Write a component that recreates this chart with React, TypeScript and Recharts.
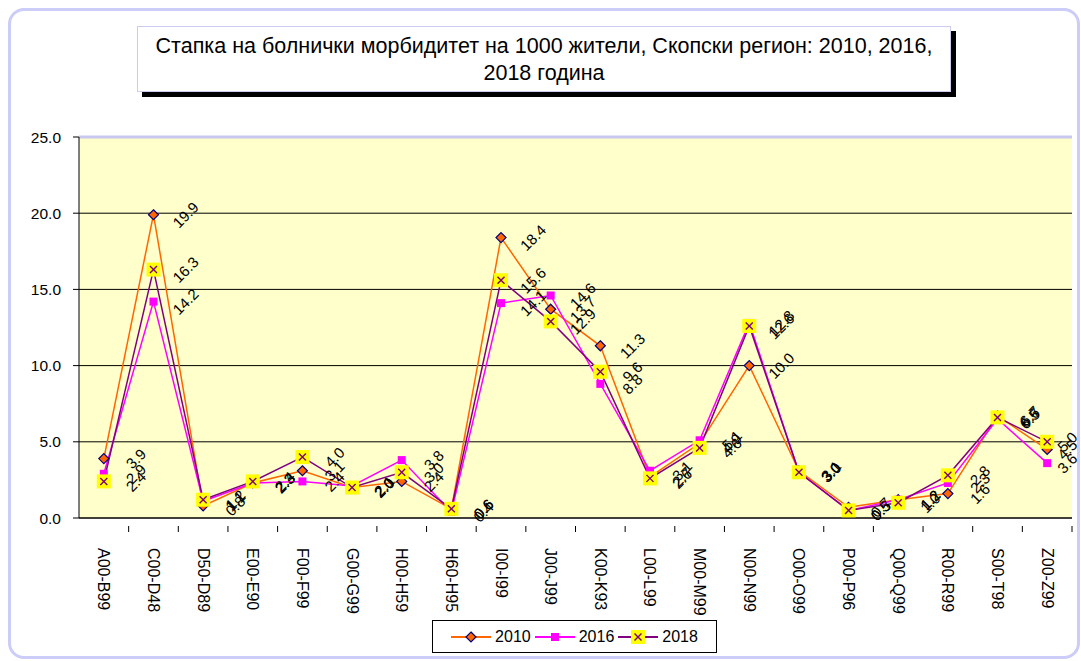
import React from "react";
import { CartesianGrid, LabelList, Line, LineChart, ReferenceLine, XAxis, YAxis } from "recharts";

const categories = [
	"A00-B99", "C00-D48", "D50-D89", "E00-E90", "F00-F99", "G00-G99", "H00-H59", "H60-H95", "I00-I99", "J00-J99",
	"K00-K93", "L00-L99", "M00-M99", "N00-N99", "O00-O99", "P00-P96", "Q00-Q99", "R00-R99", "S00-T98", "Z00-Z99",
];
const rate2010 = [3.9, 19.9, 0.8, 2.3, 3.1, 2.0, 2.4, 0.6, 18.4, 13.7, 11.3, 2.7, 4.9, 10.0, 3.1, 0.7, 1.2, 1.6, 6.7, 4.5];
const rate2016 = [2.9, 14.2, 1.1, 2.3, 2.4, 2.1, 3.8, 0.4, 14.1, 14.6, 8.8, 3.1, 5.1, 12.8, 3.0, 0.5, 1.2, 2.3, 6.5, 3.6];
const rate2018 = [2.4, 16.3, 1.2, 2.4, 4.0, 2.0, 3.0, 0.6, 15.6, 12.9, 9.6, 2.6, 4.6, 12.6, 3.0, 0.5, 1.0, 2.8, 6.6, 5.0];
const yTicks = [0, 5, 10, 15, 20, 25];

const data = categories.map((c, i) => ({ name: c, y2010: rate2010[i], y2016: rate2016[i], y2018: rate2018[i] }));

const FONT = "'Liberation Sans', Arial, sans-serif";
const BAND = 993 / 20;

const Diamond = ({ cx, cy }: any) => (
	<polygon
		points={`${cx},${cy - 5} ${cx + 5},${cy} ${cx},${cy + 5} ${cx - 5},${cy}`}
		fill="#FF6600"
		stroke="#000080"
		strokeWidth={1.2}
	/>
);

const Square = ({ cx, cy }: any) => <rect x={cx - 4} y={cy - 4} width={8} height={8} fill="#FF00FF" />;

const Cross = ({ cx, cy }: any) => (
	<g>
		<rect x={cx - 7} y={cy - 7} width={14} height={14} fill="#FFFF00" />
		<line x1={cx - 3.5} y1={cy - 3.5} x2={cx + 3.5} y2={cy + 3.5} stroke="#800080" strokeWidth={1.4} />
		<line x1={cx - 3.5} y1={cy + 3.5} x2={cx + 3.5} y2={cy - 3.5} stroke="#800080" strokeWidth={1.4} />
	</g>
);

// rotated value labels, to the right of each point (last column pulled in so it stays inside)
const ValueLabel = ({ x, y, value, index }: any) => {
	const lx = x + (index === categories.length - 1 ? 20 : 32);
	return (
		<text
			x={lx}
			y={y}
			transform={`rotate(-45 ${lx} ${y})`}
			textAnchor="middle"
			dominantBaseline="central"
			fontSize={15}
			fontFamily={FONT}
			fill="#000"
		>
			{Number(value).toFixed(1)}
		</text>
	);
};

const CategoryTick = ({ x, y, payload }: any) => (
	<g>
		<line x1={x + BAND / 2} y1={y} x2={x + BAND / 2} y2={y + 6} stroke="#000" />
		<text
			x={x}
			y={y + 22}
			transform={`rotate(90 ${x} ${y + 22})`}
			textAnchor="start"
			dominantBaseline="central"
			fontSize={16}
			fontFamily={FONT}
			fill="#000"
		>
			{payload.value}
		</text>
	</g>
);

const LegendIcon = ({ kind, color }: { kind: string; color: string }) => (
	<svg width={40} height={14} style={{ verticalAlign: "middle" }}>
		<line x1={0} y1={7} x2={40} y2={7} stroke={color} strokeWidth={2} />
		{kind === "d" && <Diamond cx={20} cy={7} />}
		{kind === "s" && <Square cx={20} cy={7} />}
		{kind === "x" && <Cross cx={20} cy={7} />}
	</svg>
);

export default function App() {
	return (
		<div style={{ position: "absolute", left: 0, top: 0, width: 1081, height: 661, background: "#fff", fontFamily: FONT }}>
			<div
				style={{
					position: "absolute",
					left: 8,
					top: 8,
					width: 1066,
					height: 645,
					border: "3px solid #CCCCF8",
					borderRadius: 16,
				}}
			/>
			<div style={{ position: "absolute", left: 0, top: 0 }}>
				<LineChart width={1081} height={661} data={data} margin={{ top: 137, right: 9, bottom: 20, left: 6 }}>
					<CartesianGrid vertical={false} stroke="#000" strokeOpacity={1} fill="#FFFFCC" fillOpacity={1} />
					<ReferenceLine y={25} stroke="#C8C8F0" strokeWidth={3} />
					<XAxis
						dataKey="name"
						interval={0}
						height={123}
						padding={{ left: BAND / 2, right: BAND / 2 }}
						tickLine={false}
						axisLine={{ stroke: "#000" }}
						tick={<CategoryTick />}
					/>
					<YAxis
						domain={[0, 25]}
						ticks={yTicks}
						width={73}
						tickFormatter={(v: number) => v.toFixed(1)}
						tick={{ fill: "#000", fontSize: 15.5, fontFamily: FONT }}
						tickLine={{ stroke: "#000" }}
						tickSize={6}
						tickMargin={12}
						axisLine={{ stroke: "#000" }}
					/>
					<Line dataKey="y2010" stroke="#FF6600" strokeWidth={1.5} dot={<Diamond />} isAnimationActive={false}>
						<LabelList dataKey="y2010" content={<ValueLabel />} />
					</Line>
					<Line dataKey="y2016" stroke="#FF00FF" strokeWidth={1.5} dot={<Square />} isAnimationActive={false}>
						<LabelList dataKey="y2016" content={<ValueLabel />} />
					</Line>
					<Line dataKey="y2018" stroke="#800080" strokeWidth={1.5} dot={<Cross />} isAnimationActive={false}>
						<LabelList dataKey="y2018" content={<ValueLabel />} />
					</Line>
				</LineChart>
			</div>
			<div
				style={{
					position: "absolute",
					left: 137,
					top: 26,
					width: 814,
					height: 66,
					background: "#fff",
					border: "1px solid #CCCCF0",
					boxShadow: "5px 5px 0 #000",
					textAlign: "center",
					fontSize: 21.5,
					lineHeight: "27px",
					paddingTop: 6,
					boxSizing: "border-box",
					color: "#000",
					whiteSpace: "nowrap",
				}}
			>
				Стапка на болнички морбидитет на 1000 жители, Скопски регион: 2010, 2016,
				<br />
				2018 година
			</div>
			<div
				style={{
					position: "absolute",
					left: 432,
					top: 620,
					width: 285,
					height: 33,
					border: "1px solid #000",
					boxSizing: "border-box",
					display: "flex",
					alignItems: "center",
					justifyContent: "center",
					gap: 4,
					fontSize: 16,
					background: "#fff",
				}}
			>
				<LegendIcon kind="d" color="#FF6600" />
				<span>2010</span>
				<LegendIcon kind="s" color="#FF00FF" />
				<span>2016</span>
				<LegendIcon kind="x" color="#800080" />
				<span>2018</span>
			</div>
		</div>
	);
}
